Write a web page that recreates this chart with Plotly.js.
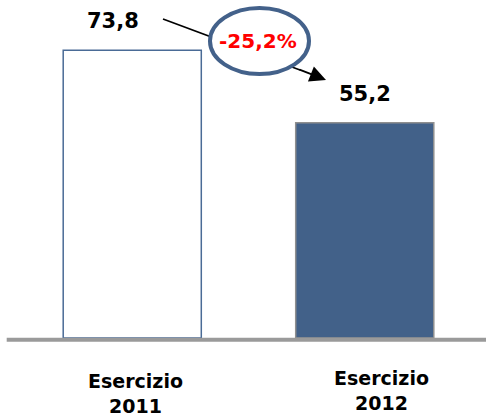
<!DOCTYPE html>
<html>
<head>
<meta charset="utf-8">
<script src="https://cdn.plot.ly/plotly-3.0.1.min.js"></script>
<style>html,body{margin:0;padding:0;background:#fff;}#chart{width:486px;height:416px;}</style>
</head>
<body>
<div id="chart"></div>
<script>
const categories = ['2011', '2012'];
const categoryPrefix = ['Esercizio', 'Esercizio'];
const values = [73.8, 55.2];
const changeLabel = '-25,2%';
const barFill = ['#ffffff', '#426189'];
const barEdge = ['#4a6b96', '#8f8f8f'];

const fontFam = 'DejaVu Sans, Verdana, sans-serif';

const trace = {
  type: 'bar',
  x: categories,
  y: values,
  width: 0.594,
  marker: {color: barFill, line: {color: barEdge, width: 1.5}},
  hoverinfo: 'none'
};

const fmt = v => v.toFixed(1).replace('.', ',');
const valueAnns = categories.map((c, i) => ({
  x: i, y: values[i], xref: 'x', yref: 'y',
  text: fmt(values[i]), showarrow: false,
  yanchor: 'bottom', yshift: 15, xshift: i === 0 ? -19 : 0,
  font: {family: fontFam, size: 21, color: '#000', weight: 'bold'}
}));
const labelShiftX = [3, 17];
const labelShiftY = [0, 3];
const catAnns = [];
categories.forEach((c, i) => {
  catAnns.push({x: i, xref: 'x', yref: 'paper', y: 0, yanchor: 'middle',
    yshift: -(381 - 338) + labelShiftY[i], xshift: labelShiftX[i],
    text: categoryPrefix[i], showarrow: false,
    font: {family: fontFam, size: 19, color: '#000', weight: 'bold'}});
  catAnns.push({x: i, xref: 'x', yref: 'paper', y: 0, yanchor: 'middle',
    yshift: -(406 - 338) + labelShiftY[i], xshift: labelShiftX[i],
    text: c, showarrow: false,
    font: {family: fontFam, size: 19, color: '#000', weight: 'bold'}});
});

const layout = {
  width: 486, height: 416,
  margin: {l: 16, r: 5, t: 28, b: 78},
  paper_bgcolor: '#fff', plot_bgcolor: '#fff',
  showlegend: false,
  separators: ',.',
  xaxis: {
    type: 'category', range: [-0.5, 1.5],
    showgrid: false, zeroline: false, showline: false, ticks: '',
    showticklabels: false
  },
  yaxis: {range: [0, 79.5], visible: false, fixedrange: true},
  shapes: [
    {type: 'line', xref: 'paper', yref: 'paper', x0: -0.02, x1: 1.02, y0: -0.006, y1: -0.006,
     line: {color: '#9a9a9a', width: 4}, layer: 'above'},
    {type: 'line', xref: 'paper', yref: 'paper',
     x0: (163 - 16) / 465, y0: (338 - 19) / 310, x1: (300 - 16) / 465, y1: (338 - 70) / 310,
     line: {color: '#000', width: 1.8}, layer: 'above'},
    {type: 'circle', xref: 'paper', yref: 'paper',
     x0: (210 - 16) / 465, x1: (309 - 16) / 465, y0: (338 - 74) / 310, y1: (338 - 8) / 310,
     fillcolor: '#ffffff', line: {color: '#43618a', width: 4}, layer: 'above'}
  ],
  annotations: valueAnns.concat(catAnns, [
    {xref: 'paper', yref: 'paper', x: (326 - 16) / 465, y: (338 - 80) / 310,
     ax: -28, ay: -11, showarrow: true, arrowhead: 2, arrowsize: 1.8, arrowwidth: 1.8,
     arrowcolor: '#000', text: ''},
    {xref: 'paper', yref: 'paper', x: (258 - 16) / 465, y: (338 - 41) / 310,
     text: changeLabel, showarrow: false, xanchor: 'center', yanchor: 'middle',
     font: {family: fontFam, size: 20, color: '#ff0000', weight: 'bold'}}
  ])
};

Plotly.newPlot('chart', [trace], layout, {displayModeBar: false, staticPlot: true});
</script>
</body>
</html>
